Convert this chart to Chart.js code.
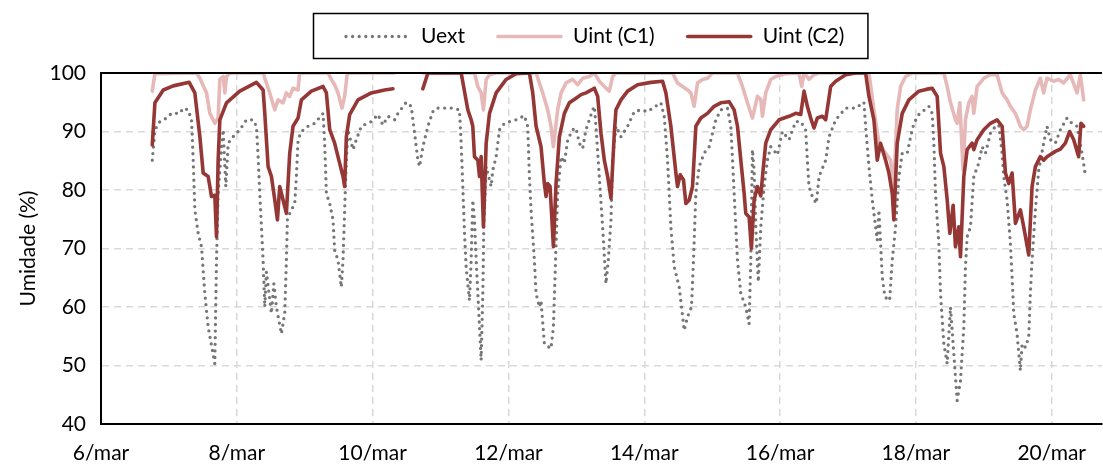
<!DOCTYPE html>
<html>
<head>
<meta charset="utf-8">
<script src="https://cdn.jsdelivr.net/npm/chart.js@4.4.1/dist/chart.umd.min.js"></script>
<style>
  html, body { margin: 0; padding: 0; background: #fff; }
  #wrap { width: 1103px; height: 465px; }
</style>
</head>
<body>
<div id="wrap"><canvas id="grafikUmidade"></canvas></div>
<script>
// x = days since 6/mar 00:00, y = relative humidity (%)
const dateLabels = ['6/mar', '8/mar', '10/mar', '12/mar', '14/mar', '16/mar', '18/mar', '20/mar'];
const tickDays = [0, 2, 4, 6, 8, 10, 12, 14];

const uext = [
    [0.755,85.1],[0.794,90.3],[0.868,91.7],[0.966,92.3],[1.039,93.1],[1.162,93.1],[1.211,94.0],[1.284,93.7],
    [1.333,92.0],[1.358,85.1],[1.382,76.6],[1.431,72.6],[1.480,70.3],[1.529,62.3],[1.578,56.6],[1.676,50.3],
    [1.701,68.0],[1.725,79.4],[1.775,87.4],[1.799,90.3],[1.838,80.6],[1.873,88.0],[1.946,89.1],[2.044,90.3],
    [2.142,92.0],[2.240,92.0],[2.289,90.9],[2.314,85.7],[2.338,79.4],[2.363,73.7],[2.387,68.0],[2.412,60.0],
    [2.436,66.0],[2.510,58.9],[2.545,64.0],[2.583,60.0],[2.657,55.4],[2.706,59.0],[2.730,68.0],[2.745,74.9],
    [2.779,76.0],[2.853,77.7],[2.877,82.3],[2.902,88.6],[2.951,90.0],[3.049,90.9],[3.147,91.4],[3.270,93.1],
    [3.294,88.0],[3.319,79.4],[3.368,77.7],[3.417,74.9],[3.441,69.7],[3.490,68.0],[3.539,63.4],[3.564,68.0],
    [3.588,76.6],[3.613,85.1],[3.637,90.3],[3.711,86.9],[3.760,88.6],[3.833,90.9],[3.980,91.7],[4.078,92.9],
    [4.152,91.1],[4.225,92.6],[4.324,92.0],[4.373,93.1],[4.495,95.0],[4.569,94.3],[4.618,89.7],[4.667,85.1],
    [4.691,84.0],[4.740,87.4],[4.814,90.9],[4.887,93.4],[4.936,94.0],[5.059,94.0],[5.181,94.0],[5.279,93.7],
    [5.304,88.0],[5.328,80.6],[5.353,72.6],[5.377,66.9],[5.426,61.1],[5.451,68.0],[5.475,78.3],[5.500,74.9],
    [5.525,68.0],[5.574,56.6],[5.598,50.9],[5.623,62.3],[5.637,73.7],[5.672,84.0],[5.745,80.6],[5.770,83.4],
    [5.819,85.7],[5.868,90.3],[5.941,91.4],[6.015,91.7],[6.113,92.0],[6.235,92.7],[6.284,90.9],[6.309,82.3],
    [6.333,76.6],[6.382,68.0],[6.407,62.3],[6.456,60.0],[6.480,61.1],[6.529,53.7],[6.627,52.9],[6.662,56.6],
    [6.691,66.9],[6.725,79.4],[6.775,85.7],[6.824,84.6],[6.873,88.6],[6.946,90.3],[6.995,90.6],[7.044,88.0],
    [7.093,87.1],[7.142,90.3],[7.191,92.0],[7.240,93.7],[7.265,94.3],[7.289,90.9],[7.338,82.3],[7.387,73.7],
    [7.436,64.0],[7.471,68.0],[7.510,74.9],[7.534,85.1],[7.583,90.9],[7.657,89.1],[7.755,90.9],[7.853,93.4],
    [7.951,93.7],[8.049,93.4],[8.123,94.0],[8.245,94.9],[8.294,92.6],[8.343,85.1],[8.368,79.4],[8.392,73.7],
    [8.441,66.9],[8.515,63.4],[8.549,60.0],[8.588,56.0],[8.637,58.3],[8.696,60.0],[8.725,68.0],[8.760,79.4],
    [8.809,84.0],[8.882,86.3],[8.956,87.4],[9.005,89.7],[9.054,92.0],[9.127,93.7],[9.225,94.0],[9.275,90.9],
    [9.324,79.4],[9.373,68.0],[9.422,62.3],[9.495,60.0],[9.544,57.1],[9.569,68.0],[9.593,86.9],[9.618,83.4],
    [9.642,73.7],[9.680,64.3],[9.716,73.7],[9.765,80.6],[9.814,85.1],[9.863,87.4],[9.961,86.0],[10.034,90.0],
    [10.132,88.6],[10.230,91.7],[10.304,91.7],[10.377,90.3],[10.402,85.1],[10.426,80.6],[10.475,78.9],[10.534,77.7],
    [10.574,82.3],[10.672,85.1],[10.721,89.1],[10.819,92.0],[10.966,94.0],[11.113,94.0],[11.235,95.0],[11.260,90.9],
    [11.309,84.0],[11.358,78.3],[11.407,73.7],[11.431,71.4],[11.456,76.6],[11.480,70.9],[11.505,65.1],[11.544,61.7],
    [11.613,61.1],[11.652,68.0],[11.701,73.7],[11.750,82.3],[11.799,86.3],[11.873,86.3],[11.922,89.1],[11.971,91.4],
    [12.044,92.9],[12.191,94.3],[12.240,93.1],[12.265,88.0],[12.289,79.4],[12.338,70.9],[12.363,62.3],[12.412,53.7],
    [12.461,50.3],[12.510,60.0],[12.559,52.0],[12.608,44.0],[12.657,47.4],[12.706,56.6],[12.730,66.9],[12.755,72.0],
    [12.804,73.7],[12.853,82.3],[12.926,84.6],[12.975,87.4],[13.025,86.3],[13.098,89.7],[13.172,90.9],[13.221,91.1],
    [13.270,86.3],[13.294,82.3],[13.343,78.3],[13.392,70.9],[13.417,65.1],[13.441,58.9],[13.490,55.4],[13.539,49.1],
    [13.564,53.7],[13.613,53.1],[13.662,54.9],[13.686,62.3],[13.711,68.0],[13.760,76.6],[13.809,83.4],[13.882,88.0],
    [13.931,90.9],[13.980,88.6],[14.054,88.0],[14.128,90.3],[14.226,92.3],[14.299,91.4],[14.373,90.9],[14.446,86.3],
    [14.495,82.6]
];

const uintC1 = [
    [0.755,96.9],[0.794,99.9],[1.407,100],[1.456,99.1],[1.554,96.6],[1.603,93.1],[1.676,91.4],[1.725,92.3],
    [1.750,98.9],[1.799,99.4],[1.824,96.6],[1.848,99.4],[1.897,100],[2.390,100],[2.412,99.1],[2.485,96.6],
    [2.559,93.7],[2.608,95.4],[2.681,94.9],[2.730,96.6],[2.779,96.0],[2.828,97.4],[2.902,97.1],[2.926,100],
    [3.343,100],[3.392,98.9],[3.441,98.0],[3.490,96.6],[3.549,94.0],[3.588,96.0],[3.627,100],[4.324,100],
    [4.500,null],
    [4.740,100],[5.500,100],[5.549,97.7],[5.598,96.6],[5.632,93.7],[5.672,98.9],[5.721,99.7],[5.819,100],
    [6.407,100],[6.505,96.6],[6.578,93.7],[6.627,90.9],[6.662,87.4],[6.725,93.7],[6.775,96.6],[6.848,98.3],
    [6.946,98.9],[7.020,98.0],[7.093,99.1],[7.191,99.4],[7.265,100],[7.338,98.6],[7.412,97.7],[7.485,96.9],
    [7.534,99.4],[7.583,100],[8.417,100],[8.490,98.3],[8.564,97.7],[8.637,97.1],[8.686,96.6],[8.735,94.3],
    [8.784,98.3],[8.858,98.9],[8.931,99.1],[9.005,100],[9.373,100],[9.446,97.7],[9.520,94.9],[9.593,92.3],
    [9.667,96.0],[9.716,95.5],[9.740,92.6],[9.789,96.6],[9.863,98.9],[9.936,99.4],[10.083,99.9],[10.279,100],
    [10.319,97.7],[10.353,100],[10.426,98.9],[10.500,99.7],[10.574,100],[11.309,100],[11.382,93.7],[11.456,88.0],
    [11.554,86.3],[11.627,85.1],[11.676,80.6],[11.725,93.7],[11.775,97.7],[11.848,99.4],[11.946,100],[12.412,100],
    [12.461,97.7],[12.510,94.9],[12.583,92.0],[12.608,91.4],[12.647,94.9],[12.696,83.4],[12.730,92.0],[12.779,94.9],
    [12.828,96.0],[12.853,93.1],[12.902,97.7],[13.000,99.1],[13.098,99.7],[13.196,99.7],[13.270,96.6],[13.343,95.4],
    [13.392,94.3],[13.466,93.1],[13.539,90.9],[13.588,90.3],[13.637,90.9],[13.686,93.7],[13.760,97.1],[13.833,99.1],
    [13.882,96.6],[13.931,99.1],[14.029,98.6],[14.103,98.9],[14.176,98.3],[14.275,99.7],[14.373,96.6],[14.422,99.7],
    [14.471,95.4]
];

const uintC2 = [
    [0.755,87.7],[0.794,94.9],[0.917,97.1],[1.064,97.8],[1.299,98.4],[1.382,96.6],[1.456,89.1],[1.505,82.9],
    [1.578,82.3],[1.603,80.6],[1.627,78.9],[1.676,79.1],[1.701,72.0],[1.725,85.1],[1.750,92.0],[1.848,94.9],
    [2.044,96.9],[2.289,98.4],[2.387,97.1],[2.412,93.1],[2.461,84.0],[2.510,82.3],[2.559,78.3],[2.598,74.9],
    [2.632,80.6],[2.681,78.3],[2.730,76.0],[2.779,86.3],[2.828,90.9],[2.902,92.3],[2.951,95.4],[3.098,96.9],
    [3.270,97.7],[3.319,96.6],[3.368,90.3],[3.441,88.0],[3.490,85.7],[3.564,82.3],[3.588,80.6],[3.613,89.1],
    [3.662,92.9],[3.784,95.4],[3.980,96.6],[4.176,97.1],[4.299,97.3],
    [4.500,null],
    [4.740,97.3],[4.814,100],[5.304,100],[5.402,93.7],[5.451,92.0],[5.475,90.9],[5.500,85.7],[5.549,85.1],
    [5.574,82.3],[5.598,85.7],[5.632,73.7],[5.672,88.0],[5.721,93.1],[5.819,96.6],[5.966,98.9],[6.113,99.9],
    [6.309,100],[6.358,96.6],[6.407,90.9],[6.480,87.4],[6.529,81.1],[6.554,78.9],[6.578,81.1],[6.613,80.6],
    [6.662,70.3],[6.701,81.1],[6.750,89.1],[6.824,93.1],[6.897,94.9],[6.995,95.7],[7.069,96.3],[7.142,96.6],
    [7.265,97.4],[7.314,96.0],[7.363,89.7],[7.412,85.1],[7.461,82.3],[7.510,78.6],[7.559,89.7],[7.583,93.7],
    [7.657,95.4],[7.755,96.9],[7.902,98.0],[8.098,98.4],[8.270,98.6],[8.319,96.6],[8.392,90.9],[8.466,82.9],
    [8.490,80.6],[8.529,82.6],[8.578,81.7],[8.613,77.7],[8.662,78.3],[8.711,80.6],[8.760,90.9],[8.833,92.3],
    [8.931,93.1],[9.029,94.3],[9.127,94.9],[9.250,95.1],[9.324,93.7],[9.373,90.9],[9.422,85.1],[9.471,79.4],
    [9.495,76.0],[9.544,75.4],[9.578,70.0],[9.618,78.3],[9.667,80.6],[9.716,79.0],[9.750,83.4],[9.789,88.0],
    [9.863,90.3],[9.985,92.0],[10.132,92.6],[10.230,93.1],[10.304,92.9],[10.353,96.9],[10.402,94.3],[10.451,92.3],
    [10.500,90.6],[10.549,92.3],[10.623,92.6],[10.672,92.0],[10.745,97.7],[10.819,98.6],[10.966,99.7],[11.113,100],
    [11.260,100],[11.309,96.0],[11.382,92.0],[11.431,85.1],[11.480,88.0],[11.554,85.1],[11.603,82.9],[11.652,79.4],
    [11.676,74.9],[11.725,88.0],[11.799,93.1],[11.897,95.4],[12.044,96.9],[12.150,97.2],[12.240,97.4],[12.314,96.0],
    [12.363,86.3],[12.412,84.0],[12.461,78.3],[12.500,72.6],[12.549,77.4],[12.583,70.3],[12.632,73.7],[12.657,68.6],
    [12.706,82.3],[12.755,86.9],[12.828,88.0],[12.853,86.9],[12.902,88.6],[13.000,90.3],[13.098,91.4],[13.196,92.0],
    [13.270,90.9],[13.319,82.9],[13.368,81.1],[13.417,82.9],[13.466,74.3],[13.539,76.6],[13.588,73.7],[13.662,68.9],
    [13.711,80.6],[13.760,84.0],[13.833,85.7],[13.882,85.1],[13.931,85.7],[14.054,86.6],[14.128,87.0],[14.201,88.0],
    [14.265,90.0],[14.324,88.6],[14.397,85.7],[14.431,91.4],[14.471,90.9]
];

const FONT = 'Lato, "Open Sans", sans-serif';
const toXY = pts => pts.map(p => ({ x: p[0], y: p[1] }));

// legend in a framed box, drawn by hand like the Excel one
const boxedLegend = {
    id: 'boxedLegend',
    afterDraw(chart) {
        const ctx = chart.ctx;
        const area = chart.chartArea;
        // top frame line of the plot area
        ctx.save();
        ctx.strokeStyle = '#000';
        ctx.lineWidth = 2;
        ctx.beginPath();
        ctx.moveTo(area.left, area.top);
        ctx.lineTo(area.right, area.top);
        ctx.stroke();

        ctx.font = '21px ' + FONT;
        const sample = 65, gapText = 12, gapItem = 31, padL = 31, padR = 23;
        const sets = chart.data.datasets;
        let total = padL + padR;
        sets.forEach((ds, i) => {
            total += sample + gapText + ctx.measureText(ds.label).width;
            if (i < sets.length - 1) total += gapItem;
        });
        const cx = 590, top = 13, h = 45;
        const left = Math.round(cx - total / 2);
        ctx.lineWidth = 1.5;
        ctx.strokeStyle = '#000';
        ctx.strokeRect(left + 0.5, top + 0.5, total, h);

        const cy = top + h / 2 + 1;
        let x = left + padL;
        sets.forEach(ds => {
            ctx.save();
            ctx.strokeStyle = ds.borderColor;
            ctx.lineWidth = ds.borderWidth;
            ctx.lineCap = ds.borderCapStyle || 'butt';
            ctx.setLineDash(ds.borderDash || []);
            ctx.beginPath();
            ctx.moveTo(x + 2, cy);
            ctx.lineTo(x + sample, cy);
            ctx.stroke();
            ctx.restore();
            x += sample + gapText;
            ctx.fillStyle = '#000';
            ctx.textBaseline = 'middle';
            ctx.fillText(ds.label, x, cy);
            x += ctx.measureText(ds.label).width + gapItem;
        });
        ctx.restore();
    }
};

const ctx = document.getElementById('grafikUmidade').getContext('2d');

new Chart(ctx, {
    type: 'line',
    data: {
        datasets: [
            {
                label: 'Uext',
                data: toXY(uext),
                borderColor: '#767676',
                borderWidth: 3.3,
                borderDash: [0, 6.6],
                borderCapStyle: 'round',
                order: 2
            },
            {
                label: 'Uint (C1)',
                data: toXY(uintC1),
                borderColor: '#E6B9B8',
                borderWidth: 3.6,
                borderCapStyle: 'round',
                order: 1
            },
            {
                label: 'Uint (C2)',
                data: toXY(uintC2),
                borderColor: '#953735',
                borderWidth: 3.6,
                borderCapStyle: 'round',
                order: 0
            }
        ]
    },
    options: {
        responsive: true,
        maintainAspectRatio: false,
        animation: false,
        spanGaps: false,
        elements: {
            point: { radius: 0 },
            line: { tension: 0, borderJoinStyle: 'round' }
        },
        layout: { padding: { top: 73, left: 0, right: 0, bottom: 0 } },
        plugins: {
            legend: { display: false },
            tooltip: { enabled: false }
        },
        scales: {
            x: {
                type: 'linear',
                min: 0,
                max: 14.74,
                afterBuildTicks: scale => { scale.ticks = tickDays.map(v => ({ value: v })); },
                afterFit: scale => { scale.height = 41; },
                ticks: {
                    autoSkip: false,
                    maxRotation: 0,
                    padding: 17,
                    color: '#000',
                    font: { family: FONT, size: 21 },
                    callback: (v, i) => dateLabels[i]
                },
                grid: {
                    color: '#D9D9D9',
                    lineWidth: 1.5,
                    drawTicks: false
                },
                border: { display: true, color: '#000', width: 2, dash: [7, 5] }
            },
            y: {
                min: 40,
                max: 100,
                afterFit: scale => { scale.width = 101; },
                ticks: {
                    stepSize: 10,
                    padding: 15,
                    color: '#000',
                    font: { family: FONT, size: 21 }
                },
                grid: {
                    color: '#D9D9D9',
                    lineWidth: 1.5,
                    drawTicks: false
                },
                border: { display: true, color: '#000', width: 2, dash: [7, 5] },
                title: {
                    display: true,
                    text: 'Umidade (%)',
                    color: '#000',
                    font: { family: FONT, size: 21 },
                    padding: { top: 16, bottom: 0 }
                }
            }
        }
    },
    plugins: [boxedLegend]
});
</script>
</body>
</html>
